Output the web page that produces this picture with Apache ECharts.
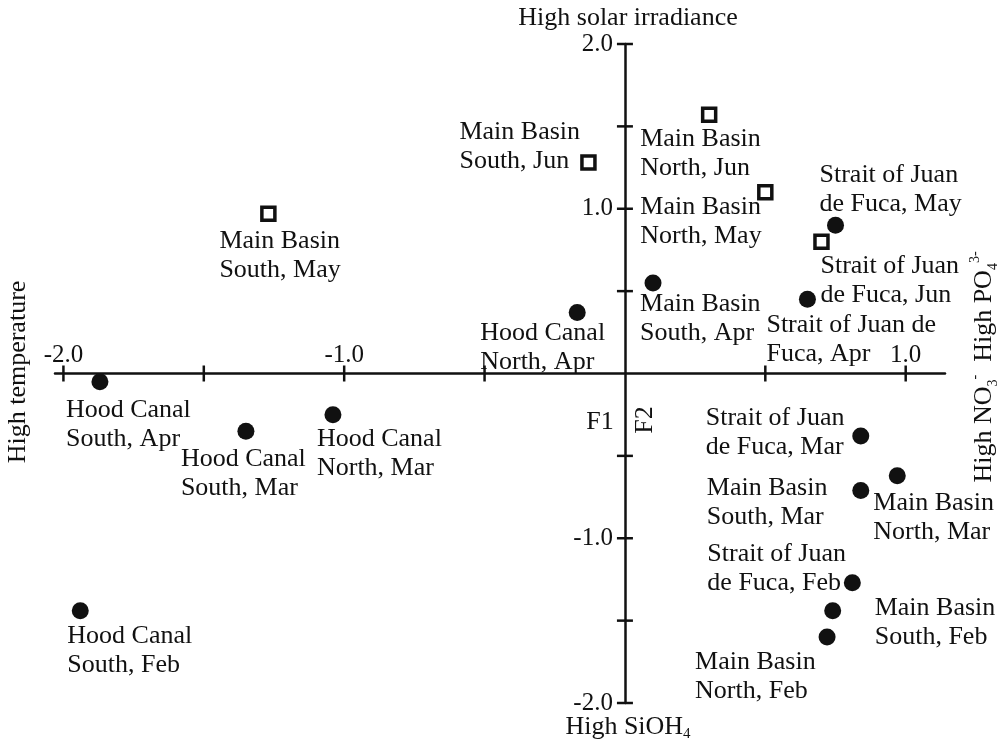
<!DOCTYPE html>
<html>
<head>
<meta charset="utf-8">
<script src="https://cdn.jsdelivr.net/npm/echarts@6/dist/echarts.min.js"></script>
<style>
html, body { margin: 0; padding: 0; background: #fff; }
#chart { width: 1002px; height: 742px; }
</style>
</head>
<body>
<div id="chart"></div>
<script>
// Station/month scores on the first two factors (F1, F2)
// Open squares: late-spring samples
const squareNames = [
  'Main Basin\nSouth, May',
  'Main Basin\nSouth, Jun',
  'Main Basin\nNorth, Jun',
  'Main Basin\nNorth, May',
  'Strait of Juan\nde Fuca, Jun'
];
const squareF1 = [-1.27, -0.13, 0.30, 0.50, 0.70];
const squareF2 = [0.97, 1.28, 1.57, 1.10, 0.80];

// Filled circles: late-winter / early-spring samples
const circleNames = [
  'Strait of Juan\nde Fuca, May',
  'Strait of Juan de\nFuca, Apr',
  'Main Basin\nSouth, Apr',
  'Hood Canal\nNorth, Apr',
  'Hood Canal\nSouth, Apr',
  'Hood Canal\nSouth, Mar',
  'Hood Canal\nNorth, Mar',
  'Hood Canal\nSouth, Feb',
  'Strait of Juan\nde Fuca, Mar',
  'Main Basin\nNorth, Mar',
  'Main Basin\nSouth, Mar',
  'Strait of Juan\nde Fuca, Feb',
  'Main Basin\nSouth, Feb',
  'Main Basin\nNorth, Feb'
];
const circleF1 = [0.75, 0.65, 0.10, -0.17, -1.87, -1.35, -1.04, -1.94, 0.84, 0.97, 0.84, 0.81, 0.74, 0.72];
const circleF2 = [0.90, 0.45, 0.55, 0.37, -0.05, -0.35, -0.25, -1.44, -0.38, -0.62, -0.71, -1.27, -1.44, -1.60];

// Axis ticks and labelled tick values
const xTicks = [-2, -1.5, -1, -0.5, 0.5, 1];
const xTickLabels = [-2, -1, 1];
const yTicks = [-2, -1.5, -1, -0.5, 0.5, 1, 1.5, 2];
const yTickLabels = [-2, -1, 1, 2];

// Where each point's caption sits relative to its marker (top-left of text block)
const labelPlacement = {
  'Main Basin\nSouth, May': [-49, 13],
  'Main Basin\nSouth, Jun': [-129, -45],
  'Main Basin\nNorth, Jun': [-69, 10],
  'Main Basin\nNorth, May': [-125, 0],
  'Strait of Juan\nde Fuca, Jun': [-1, 10],
  'Strait of Juan\nde Fuca, May': [-16, -65],
  'Strait of Juan de\nFuca, Apr': [-41, 11],
  'Main Basin\nSouth, Apr': [-13, 7],
  'Hood Canal\nNorth, Apr': [-97, 6],
  'Hood Canal\nSouth, Apr': [-34, 14],
  'Hood Canal\nSouth, Mar': [-65, 14],
  'Hood Canal\nNorth, Mar': [-16, 10],
  'Hood Canal\nSouth, Feb': [-13, 11],
  'Strait of Juan\nde Fuca, Mar': [-155, -32],
  'Main Basin\nNorth, Mar': [-24, 13],
  'Main Basin\nSouth, Mar': [-154, -17],
  'Strait of Juan\nde Fuca, Feb': [-145, -43],
  'Main Basin\nSouth, Feb': [42, -17],
  'Main Basin\nNorth, Feb': [-132, 11]
};

const INK = '#111111';
const FONT = 'Liberation Serif';
const FS = 26;

function points(names, xs, ys) {
  return names.map((n, i) => {
    const off = labelPlacement[n] || [8, 8];
    return {
      name: n,
      value: [xs[i], ys[i]],
      label: {
        show: true,
        position: 'inside',
        align: 'left',
        verticalAlign: 'top',
        offset: off,
        formatter: n,
        fontFamily: FONT,
        fontSize: FS,
        lineHeight: 29,
        color: INK
      }
    };
  });
}

// Tick marks crossing each axis line, placed through the axis scales
function tickSeries(values, horizontal) {
  return {
    type: 'custom',
    silent: true,
    clip: false,
    z: 3,
    data: values.map(v => horizontal ? [v, 0] : [0, v]),
    renderItem: (params, api) => {
      const p = api.coord([api.value(0), api.value(1)]);
      const shape = horizontal
        ? { x1: p[0], y1: p[1] - 8, x2: p[0], y2: p[1] + 8 }
        : { x1: p[0] - 8, y1: p[1], x2: p[0] + 8, y2: p[1] };
      return { type: 'line', shape: shape, style: { stroke: INK, lineWidth: 2.5 } };
    }
  };
}

// Tick labels that ride along the zero-crossing axes
function tickLabelSeries(values, horizontal) {
  return {
    type: 'custom',
    silent: true,
    clip: false,
    z: 3,
    data: values.map(v => horizontal ? [v, 0] : [0, v]),
    renderItem: (params, api) => {
      const v = horizontal ? api.value(0) : api.value(1);
      const p = api.coord([api.value(0), api.value(1)]);
      return {
        type: 'text',
        x: horizontal ? p[0] : p[0] - 12,
        y: horizontal ? p[1] - 6 : p[1],
        style: {
          text: v.toFixed(1),
          fontFamily: FONT,
          fontSize: 25,
          fill: INK,
          align: horizontal ? 'center' : 'right',
          verticalAlign: horizontal ? 'bottom' : 'middle'
        }
      };
    }
  };
}

const chart = echarts.init(document.getElementById('chart'), null, { renderer: 'canvas' });

const axisLineStyle = { color: INK, width: 2.5 };

chart.setOption({
  animation: false,
  backgroundColor: '#ffffff',
  grid: { left: 55, right: 57, top: 44, bottom: 39, outerBoundsMode: 'none' },
  xAxis: {
    type: 'value',
    min: -2.03,
    max: 1.14,
    axisLine: { show: true, onZero: true, lineStyle: axisLineStyle },
    axisTick: { show: false },
    splitLine: { show: false },
    axisLabel: { show: false }
  },
  yAxis: {
    type: 'value',
    min: -2,
    max: 2,
    axisLine: { show: true, onZero: true, lineStyle: axisLineStyle },
    axisTick: { show: false },
    splitLine: { show: false },
    axisLabel: { show: false }
  },
  graphic: [
    {
      type: 'text', x: 628, y: 18, silent: true,
      style: { text: 'High solar irradiance', fontFamily: FONT, fontSize: FS, fill: INK, align: 'center', verticalAlign: 'middle' }
    },
    {
      type: 'text', x: 628, y: 727, silent: true,
      style: {
        text: '{a|High SiOH}{s|4}',
        align: 'center', verticalAlign: 'middle',
        rich: {
          a: { fontFamily: FONT, fontSize: FS, lineHeight: 30, fill: INK, color: INK },
          s: { fontFamily: FONT, fontSize: 15, verticalAlign: 'bottom', fill: INK, color: INK }
        }
      }
    },
    {
      type: 'text', x: 18, y: 372, rotation: Math.PI / 2, silent: true,
      style: { text: 'High temperature', fontFamily: FONT, fontSize: FS, fill: INK, align: 'center', verticalAlign: 'middle' }
    },
    {
      type: 'text', x: 984, y: 367, rotation: Math.PI / 2, silent: true,
      style: {
        text: '{a|High NO}{s|3}{p|-}{a|  High PO}{s|4}{p|3-}',
        align: 'center', verticalAlign: 'middle',
        rich: {
          a: { fontFamily: FONT, fontSize: FS, lineHeight: 32, fill: INK, color: INK },
          s: { fontFamily: FONT, fontSize: 14, verticalAlign: 'bottom', fill: INK, color: INK },
          p: { fontFamily: FONT, fontSize: 14, verticalAlign: 'top', fill: INK, color: INK }
        }
      }
    },
    {
      type: 'text', x: 600, y: 422, silent: true,
      style: { text: 'F1', fontFamily: FONT, fontSize: FS, fill: INK, align: 'center', verticalAlign: 'middle' }
    },
    {
      type: 'text', x: 645, y: 420, rotation: Math.PI / 2, silent: true,
      style: { text: 'F2', fontFamily: FONT, fontSize: FS, fill: INK, align: 'center', verticalAlign: 'middle' }
    }
  ],
  series: [
    tickSeries(xTicks, true),
    tickSeries(yTicks, false),
    tickLabelSeries(xTickLabels, true),
    tickLabelSeries(yTickLabels, false),
    {
      name: 'Late spring',
      type: 'scatter',
      silent: true,
      z: 5,
      symbol: 'rect',
      symbolSize: 13,
      itemStyle: { color: '#ffffff', borderColor: INK, borderWidth: 3.5, opacity: 1 },
      emphasis: { disabled: true },
      data: points(squareNames, squareF1, squareF2)
    },
    {
      name: 'Winter to early spring',
      type: 'scatter',
      silent: true,
      z: 5,
      symbol: 'circle',
      symbolSize: 17,
      itemStyle: { color: INK, opacity: 1 },
      emphasis: { disabled: true },
      data: points(circleNames, circleF1, circleF2)
    }
  ]
});
</script>
</body>
</html>
